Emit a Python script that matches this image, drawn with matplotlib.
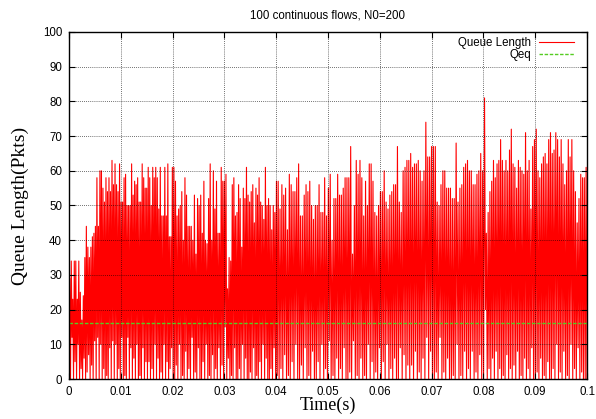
import numpy as np
import matplotlib
matplotlib.use("Agg")
import matplotlib.pyplot as plt

# ---- data (queue length peaks / troughs per 0.02 s segment) ----
segment_edges = [0.0, 0.0201, 0.0402, 0.0603, 0.0804, 0.1]

peaks_seg1 = [29, 34, 23, 34, 34, 23, 34, 25, 17, 24,
              35, 44, 38, 35, 38, 41, 42, 44, 58, 44,
              60, 60, 55, 51, 58, 54, 58, 54, 63, 56,
              62, 56, 54, 62, 51, 51, 58, 59, 50, 50,
              50, 62, 53, 57, 56, 58, 51, 51, 62, 58,
              55, 55, 61, 58, 50, 61, 58, 61, 58, 49,
              61, 47, 47, 61, 47, 62, 41, 41, 61]
troughs_seg1 = [0, 12, 0, 5, 0, 10, 0, 3, 0, 6,
                0, 2, 7, 0, 4, 0, 11, 0, 12, 0,
                10, 0, 3, 0, 1, 0, 9, 0, 11, 0,
                10, 0, 3, 0, 12, 0, 1, 0, 12, 0,
                9, 0, 6, 0, 10, 0, 1, 0, 9, 0,
                5, 0, 5, 0, 3, 0, 10, 0, 6, 0,
                2, 0, 10, 0, 5, 0, 3, 9, 0]

peaks_seg2 = [61, 57, 47, 49, 50, 54, 40, 58, 53, 44,
              44, 44, 40, 53, 36, 52, 50, 53, 42, 57,
              40, 39, 52, 62, 40, 60, 49, 57, 42, 42,
              61, 57, 57, 59, 26, 35, 34, 56, 58, 47,
              48, 56, 52, 38, 55, 52, 61, 53, 51, 54,
              56, 45, 55, 53, 58, 51, 50, 46, 61, 50,
              52, 50, 43, 50, 48, 57]
troughs_seg2 = [0, 4, 0, 10, 0, 1, 0, 8, 0, 3,
                0, 12, 0, 2, 0, 9, 0, 0, 5, 0,
                10, 0, 1, 0, 7, 0, 3, 0, 9, 0,
                4, 0, 15, 0, 6, 0, 1, 0, 9, 0,
                0, 3, 0, 10, 0, 6, 0, 0, 2, 0,
                9, 0, 1, 0, 5, 0, 10, 0, 6, 0,
                0, 3, 0, 9, 0, 1]

peaks_seg3 = [57, 49, 56, 53, 55, 43, 59, 56, 54, 54,
              58, 62, 47, 47, 53, 56, 54, 57, 50, 46,
              50, 50, 56, 48, 48, 58, 47, 55, 59, 40,
              52, 52, 59, 53, 53, 55, 58, 58, 58, 67,
              36, 50, 63, 59, 63, 58, 47, 57, 50, 62,
              62, 57, 48, 47, 50, 54]
troughs_seg3 = [0, 3, 0, 7, 0, 1, 0, 5, 0, 10,
                0, 0, 4, 0, 9, 0, 1, 0, 8, 0,
                0, 5, 0, 10, 0, 3, 0, 11, 0, 1,
                0, 6, 0, 3, 0, 9, 0, 0, 2, 0,
                11, 0, 1, 0, 6, 0, 1, 0, 10, 0,
                5, 0, 2, 0, 9, 0]

peaks_seg4 = [54, 60, 51, 49, 53, 54, 56, 56, 67, 51,
              48, 60, 61, 63, 63, 65, 61, 62, 62, 63,
              60, 57, 60, 74, 64, 64, 67, 67, 67, 51,
              50, 56, 60, 60, 55, 55, 55, 52, 52, 68,
              51, 55, 56, 61, 62, 63, 60, 60, 56, 56,
              59, 60, 65, 60, 81]
troughs_seg4 = [5, 0, 10, 0, 3, 0, 6, 0, 0, 9,
                0, 7, 0, 4, 0, 4, 0, 8, 0, 2,
                0, 6, 0, 12, 0, 8, 0, 0, 2, 0,
                12, 0, 2, 0, 6, 0, 0, 1, 0, 10,
                0, 1, 0, 8, 0, 3, 0, 8, 0, 2,
                0, 7, 0, 0, 20]

peaks_seg5 = [42, 48, 54, 57, 63, 58, 62, 63, 69, 63,
              60, 63, 60, 66, 72, 62, 61, 55, 63, 61,
              60, 59, 71, 60, 63, 49, 67, 69, 72, 60,
              58, 62, 64, 65, 62, 69, 71, 65, 66, 71,
              69, 64, 69, 62, 56, 60, 69, 64, 69, 60,
              54, 45, 52, 59, 58, 58, 61]
troughs_seg5 = [0, 3, 0, 6, 0, 8, 0, 3, 0, 1,
                0, 7, 0, 3, 0, 4, 0, 8, 0, 1,
                0, 6, 0, 3, 0, 9, 0, 0, 2, 0,
                6, 0, 1, 0, 5, 0, 0, 3, 0, 10,
                0, 2, 0, 8, 0, 1, 0, 10, 0, 3,
                0, 9, 0, 2, 0, 0, 0]

qeq_value = 16
x_ticks = [0, 0.01, 0.02, 0.03, 0.04, 0.05, 0.06, 0.07, 0.08, 0.09, 0.1]
x_tick_labels = ["0", "0.01", "0.02", "0.03", "0.04", "0.05", "0.06", "0.07", "0.08", "0.09", "0.1"]
y_ticks = [0, 10, 20, 30, 40, 50, 60, 70, 80, 90, 100]

# ---- build the time series ----
segments = [(peaks_seg1, troughs_seg1), (peaks_seg2, troughs_seg2), (peaks_seg3, troughs_seg3),
            (peaks_seg4, troughs_seg4), (peaks_seg5, troughs_seg5)]
times = [0.0]
queue = [0.0]
for i, (pk, tr) in enumerate(segments):
    vals = []
    for p, t in zip(pk, tr):
        vals += [p, t]
    ts = np.linspace(segment_edges[i], segment_edges[i + 1], len(vals) + 1)[1:]
    times += list(ts)
    queue += vals
times = np.array(times)
queue = np.array(queue, dtype=float)

# ---- figure ----
sans = ["Liberation Sans", "DejaVu Sans"]
serif = ["Liberation Serif", "DejaVu Serif"]

fig = plt.figure(figsize=(5.96, 4.19), dpi=100)
ax = fig.add_axes([69 / 596, 1 - 379 / 419, (587 - 69) / 596, (379 - 32) / 419])

ax.plot(times, queue, color="#ff0000", lw=0.8, label="Queue Length", zorder=2)
ax.plot([0, 0.1], [qeq_value, qeq_value], color="#55cc22", lw=1.0,
        linestyle=(0, (2.5, 1.2)), label="Qeq", zorder=4)

ax.set_xlim(0, 0.1)
ax.set_ylim(0, 100)
ax.set_xticks(x_ticks)
ax.set_xticklabels(x_tick_labels, fontfamily=sans, fontsize=8.3)
ax.set_yticks(y_ticks)
ax.set_yticklabels([str(v) for v in y_ticks], fontfamily=sans, fontsize=8.3)
ax.tick_params(direction="in", top=True, right=True, length=4, width=0.8, pad=5)
ax.set_axisbelow(False)
ax.grid(True, color="black", linestyle=(0, (1, 1.5)), lw=0.6, alpha=0.75)
for gl in ax.get_xgridlines() + ax.get_ygridlines():
    gl.set_zorder(3)
for s in ax.spines.values():
    s.set_linewidth(1.0)
    s.set_zorder(5)

ax.set_xlabel("Time(s)", fontfamily=serif, fontsize=13, labelpad=-1)
ax.set_ylabel("Queue Length(Pkts)", fontfamily=serif, fontsize=14, labelpad=10)
ax.set_title("100 continuous flows, N0=200", fontfamily=sans, fontsize=8.3, pad=10)

leg = ax.legend(loc="upper right", frameon=False, markerfirst=False,
                prop={"family": sans, "size": 8.3}, handlelength=3.0,
                labelspacing=-0.05, borderaxespad=0.15, handletextpad=0.7,
                borderpad=0.3)
leg.set_bbox_to_anchor((1 - 8 / 518, 1.0), transform=ax.transAxes)

fig.savefig("out.png", dpi=100)
